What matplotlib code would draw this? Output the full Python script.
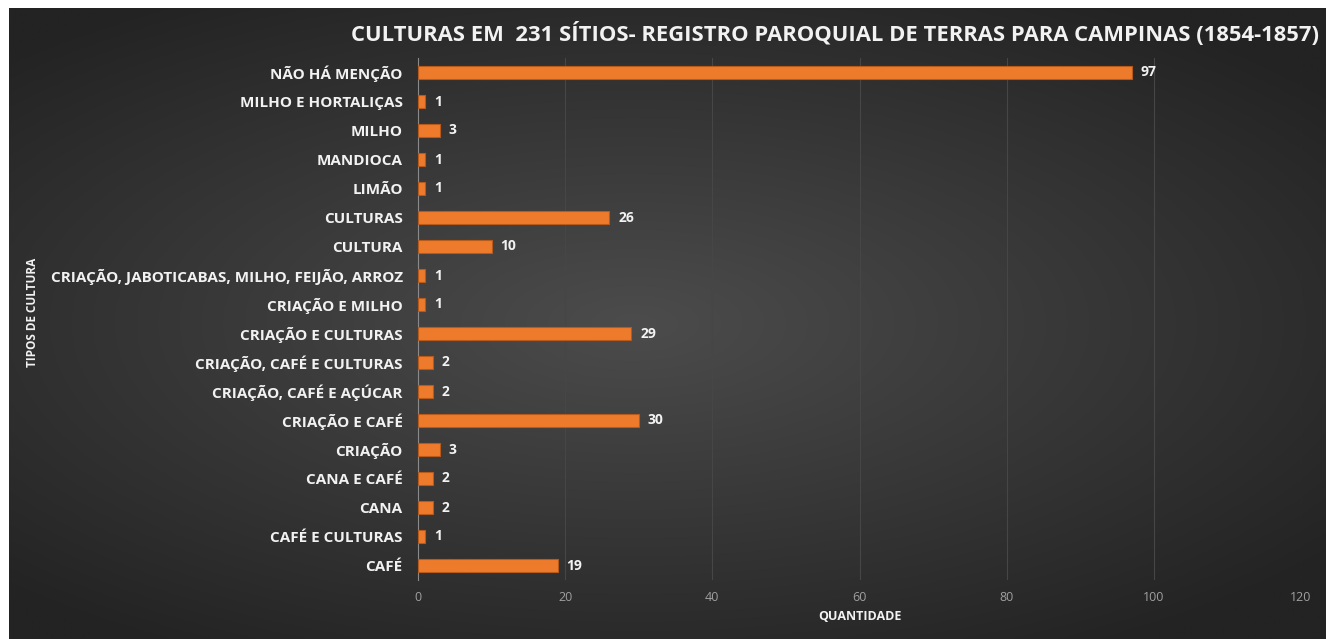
import numpy as np
import matplotlib
matplotlib.use("Agg")
import matplotlib.pyplot as plt

categories = [
    "CAFÉ", "CAFÉ E CULTURAS", "CANA", "CANA E CAFÉ", "CRIAÇÃO",
    "CRIAÇÃO E CAFÉ", "CRIAÇÃO, CAFÉ E AÇÚCAR", "CRIAÇÃO, CAFÉ E CULTURAS",
    "CRIAÇÃO E CULTURAS", "CRIAÇÃO E MILHO",
    "CRIAÇÃO, JABOTICABAS, MILHO, FEIJÃO, ARROZ", "CULTURA", "CULTURAS",
    "LIMÃO", "MANDIOCA", "MILHO", "MILHO E HORTALIÇAS", "NÃO HÁ MENÇÃO",
]
values = [19, 1, 2, 2, 3, 30, 2, 2, 29, 1, 1, 10, 26, 1, 1, 3, 1, 97]
xticks = [0, 20, 40, 60, 80, 100, 120]

title = "CULTURAS EM  231 SÍTIOS- REGISTRO PAROQUIAL DE TERRAS PARA CAMPINAS (1854-1857)"

W, H = 1330, 639
fig = plt.figure(figsize=(W / 100, H / 100), dpi=100)
fig.patch.set_facecolor("white")

# background with radial gradient
bx0, by0, bx1, by1 = 9, 8, 1326, 639
bg = fig.add_axes([bx0 / W, 1 - by1 / H, (bx1 - bx0) / W, (by1 - by0) / H])
yy, xx = np.mgrid[-1:1:300j, -1:1:600j]
r = np.sqrt(((xx + 0.05) / 1.0) ** 2 + (yy / 0.9) ** 2)
r = np.clip(r / 1.35, 0, 1)
c0 = np.array([0x4c, 0x4c, 0x4c]) / 255
c1 = np.array([0x23, 0x23, 0x23]) / 255
img = c0[None, None, :] * (1 - r[..., None]) + c1[None, None, :] * r[..., None]
bg.imshow(img, aspect="auto", extent=[0, 1, 0, 1], interpolation="bilinear")
bg.axis("off")

# main axes
ax_l, ax_r, ax_t, ax_b = 418, 1301, 58, 580
ax = fig.add_axes([ax_l / W, 1 - ax_b / H, (ax_r - ax_l) / W, (ax_b - ax_t) / H])
ax.set_facecolor("none")
y = np.arange(len(categories))
ax.barh(y, values, height=0.48, color="#EE7A2C", edgecolor="#B85A1A",
        linewidth=0.8, zorder=3)
for yi, v in zip(y, values):
    ax.text(v + 1.2, yi, str(v), va="center", ha="left", color="#F2F2F2",
            fontsize=10, fontweight="bold", family="Open Sans", zorder=4)

ax.set_xlim(0, 120)
ax.set_ylim(-0.5, len(categories) - 0.5)
ax.set_xticks(xticks)
ax.set_yticks(y)
ax.set_yticklabels(categories, fontsize=11, fontweight="bold",
                   color="#F2F2F2", family="Open Sans")
ax.tick_params(axis="y", length=0, pad=11)
ax.tick_params(axis="x", length=0, pad=8, labelsize=9, colors="#A0A0A0")
for lab in ax.get_xticklabels():
    lab.set_family("Open Sans")
ax.grid(axis="x", color="#464646", linewidth=0.8, zorder=0)
for s in ["top", "right", "bottom"]:
    ax.spines[s].set_visible(False)
ax.spines["left"].set_color("#8a8a8a")
ax.spines["left"].set_linewidth(0.8)

fig.text(860 / W, 1 - 617 / H, "QUANTIDADE", ha="center", va="center",
         color="#F2F2F2", fontsize=9, fontweight="bold", family="Open Sans")
fig.text(33 / W, 1 - 312 / H, "TIPOS DE CULTURA", ha="center", va="center",
         rotation=90, color="#F2F2F2", fontsize=8.5, fontweight="bold",
         family="Open Sans")
fig.text(835 / W, 1 - 34 / H, title, ha="center", va="center",
         color="#F2F2F2", fontsize=15.8, fontweight="bold", family="Open Sans")

fig.savefig("out.png", dpi=100, facecolor=fig.get_facecolor())
